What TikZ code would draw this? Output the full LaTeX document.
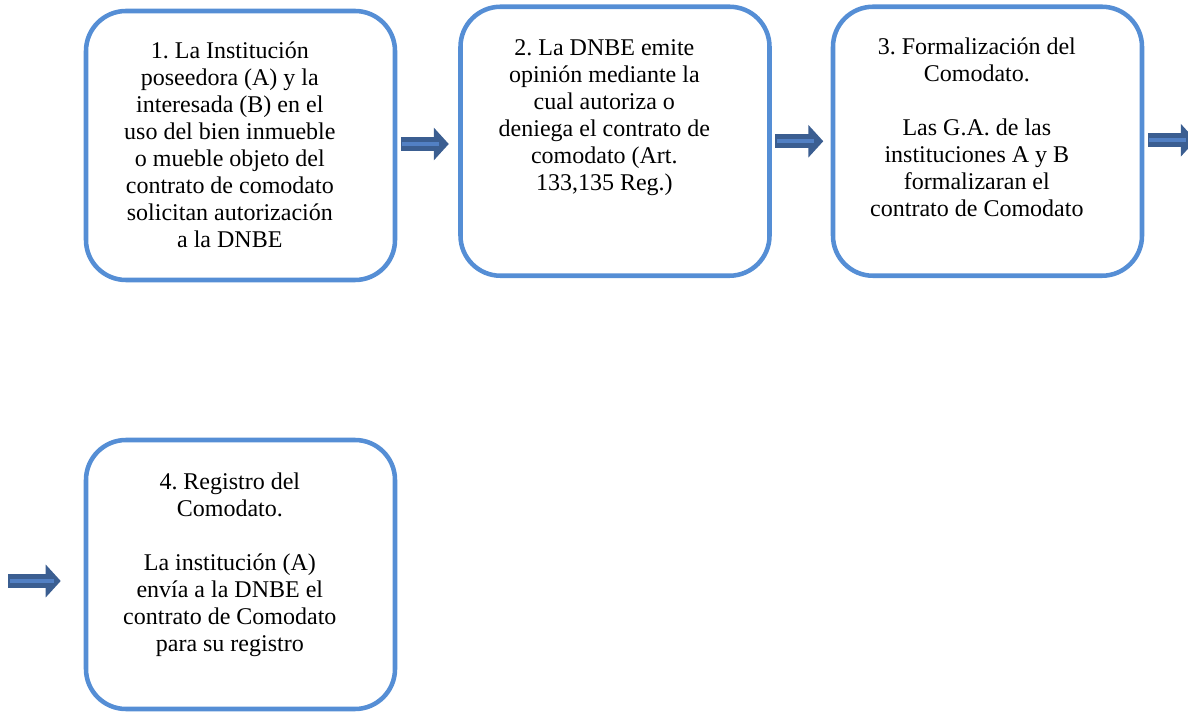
\documentclass[tikz,border=0pt]{standalone}
\usepackage{fontspec}
\setmainfont{Liberation Serif}
\frenchspacing
\usetikzlibrary{positioning,arrows.meta}
\definecolor{boxblue}{RGB}{85,142,213}
\definecolor{arrowdark}{RGB}{59,94,145}
\definecolor{arrowlight}{RGB}{82,128,196}
\tikzset{
  stepbox/.style={draw=boxblue, line width=3.4pt, rounded corners=30pt,
    minimum width=231.75pt, minimum height=201.75pt, inner sep=0pt},
  steptext/.style={align=center, inner sep=0pt,
    font=\fontsize{18}{20.25}\selectfont},
  blockarrow/.style={draw=arrowdark, line width=10.5pt,
    -{Triangle[width=24pt,length=11.25pt]}},
  stripe/.style={draw=arrowlight, line width=3pt}
}

\begin{document}
\begin{tikzpicture}[x=0.75pt, y=-0.75pt]
  \useasboundingbox (0,0) rectangle (1188,712);

  % the four steps
  \node[stepbox] (b1) at (240.5,145.5) {};
  \node[stepbox] (b2) at (615,141.25) {};
  \node[stepbox] (b3) at (987.5,141.25) {};
  \node[stepbox] (b4) at (240.5,574.5) {};

  \node[steptext, below=24.75pt of b1.north, xshift=-8pt] (t1)
    {1. La Institución\\poseedora (A) y la\\interesada (B) en el\\uso del bien inmueble\\o mueble objeto del\\contrato de comodato\\solicitan autorización\\a la DNBE};
  \node[steptext, below=26.5pt of b2.north, xshift=-8pt] (t2)
    {2. La DNBE emite\\opinión mediante la\\cual autoriza o\\deniega el contrato de\\comodato (Art.\\133,135 Reg.)};
  \node[steptext, below=25pt of b3.north, xshift=-8pt] (t3)
    {3. Formalización del\\Comodato.\\[20.25pt]Las G.A. de las\\instituciones A y B\\formalizaran el\\contrato de Comodato};
  \node[steptext, below=26.25pt of b4.north, xshift=-8pt] (t4)
    {4. Registro del\\Comodato.\\[20.25pt]La institución (A)\\envía a la DNBE el\\contrato de Comodato\\para su registro};

  % block arrows
  \draw[blockarrow] ([shift={(3.5,-1.5)}]b1.east) -- ++(48,0);
  \draw[stripe] ([shift={(5,-1.5)}]b1.east) -- ++(37,0);
  \draw[blockarrow] ([shift={(3.5,0)}]b2.east) -- ++(48,0);
  \draw[stripe] ([shift={(5,0)}]b2.east) -- ++(37,0);
  \draw[blockarrow] ([shift={(3.5,-1)}]b3.east) -- ++(48,0);
  \draw[stripe] ([shift={(5,-1)}]b3.east) -- ++(37,0);
  \coordinate (c4) at (8,581);
  \draw[blockarrow] (c4) -- ([shift={(-23,6.5)}]b4.west);
  \draw[stripe] ([xshift=1.5pt]c4) -- ++(44,0);
\end{tikzpicture}
\end{document}
